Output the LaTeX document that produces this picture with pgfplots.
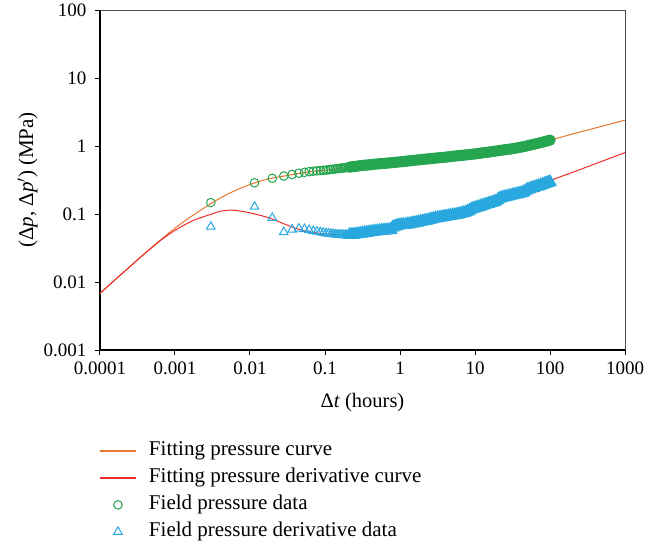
\documentclass[border=0pt]{standalone}
\usepackage{pgfplots}
\usepackage{pgfplotstable}
\pgfplotsset{compat=1.18}
\usepackage{fontspec}
\setmainfont{Liberation Serif}
\definecolor{fitorange}{RGB}{232,119,46}
\definecolor{fitred}{RGB}{238,43,43}
\definecolor{datgreen}{RGB}{36,165,78}
\definecolor{datblue}{RGB}{41,167,223}
\pgfplotsset{
  lineleg/.style 2 args={legend image code/.code={\fill[#1] (0pt,-#2) rectangle (35pt,#2); \path (48pt,0pt);}},
  markleg/.style={legend image code/.code={\path (0pt,0pt) (48pt,0pt); \draw[##1] plot coordinates {(17.5pt,0pt)};}},
}

\pgfplotstableread{
t p dp
0.0001 0.0068 0.0068
0.00015 0.0102 0.0102
0.0002 0.0135 0.0135
0.0003 0.0202 0.0201
0.0004 0.0267 0.0265
0.0005 0.0330 0.0326
0.0007 0.0450 0.0440
0.001 0.0620 0.0575
0.0015 0.0860 0.0740
0.002 0.1060 0.0850
0.003 0.1420 0.0990
0.004 0.1710 0.1095
0.005 0.1950 0.1135
0.006 0.2150 0.1135
0.007 0.2320 0.1115
0.008 0.2460 0.1090
0.01 0.2720 0.1040
0.015 0.3130 0.0930
0.02 0.3380 0.0840
0.03 0.3650 0.0700
0.04 0.3860 0.0620
0.05 0.4020 0.0575
0.07 0.4250 0.0535
0.1 0.4410 0.0510
0.15 0.4660 0.0495
0.2 0.4850 0.0490
0.3 0.5150 0.0510
0.5 0.5450 0.0550
0.8 0.5720 0.0610
1 0.5850 0.0660
2 0.6350 0.0770
3 0.6650 0.0860
5 0.7050 0.0960
10 0.7650 0.1200
20 0.8500 0.1600
30 0.9050 0.1850
50 1.0100 0.2250
70 1.1000 0.2600
100 1.2200 0.3100
200 1.5000 0.4100
500 1.9600 0.6000
1000 2.4000 0.8000
}\curves

\pgfplotstableread{
t p dp
0.003 0.147 0.065
0.0115 0.288 0.128
0.0198 0.335 0.088
0.0282 0.362 0.054
0.0365 0.381 0.059
0.0448 0.398 0.061
0.0532 0.410 0.060
0.0615 0.420 0.058
0.0698 0.426 0.056
0.0782 0.431 0.055
0.0865 0.435 0.054
0.0948 0.439 0.053
0.1032 0.442 0.052
0.1115 0.447 0.0515
0.1198 0.452 0.051
0.1282 0.456 0.0505
0.1365 0.460 0.050
0.1448 0.464 0.0498
0.1532 0.468 0.0495
0.1615 0.471 0.0493
0.1698 0.474 0.0491
0.1782 0.477 0.049
0.1865 0.480 0.049
0.1948 0.483 0.049
}\earlydata

\pgfplotstableread{
t p dp
0.211 0.489 0.0492
0.224 0.493 0.0494
0.237 0.497 0.0497
0.251 0.501 0.0500
0.266 0.505 0.0505
0.282 0.510 0.0510
0.299 0.515 0.0515
0.316 0.518 0.0520
0.335 0.521 0.0525
0.355 0.524 0.0530
0.376 0.527 0.0535
0.398 0.531 0.0540
0.422 0.535 0.0545
0.447 0.539 0.0550
0.473 0.542 0.0555
0.501 0.545 0.0560
0.531 0.548 0.0565
0.562 0.551 0.0568
0.596 0.554 0.0572
0.631 0.557 0.0575
0.668 0.560 0.0578
0.708 0.563 0.0580
0.750 0.566 0.0585
0.794 0.570 0.0630
0.841 0.574 0.0650
0.891 0.578 0.0665
0.944 0.581 0.0675
1.00 0.585 0.0685
1.06 0.589 0.0690
1.12 0.593 0.0695
1.19 0.597 0.0700
1.26 0.601 0.0705
1.33 0.605 0.0712
1.41 0.609 0.0720
1.50 0.613 0.0730
1.58 0.618 0.0740
1.68 0.622 0.0750
1.78 0.626 0.0760
1.88 0.630 0.0770
2.00 0.635 0.0780
2.11 0.639 0.0790
2.24 0.643 0.0800
2.37 0.647 0.0810
2.51 0.651 0.0825
2.66 0.655 0.0840
2.82 0.660 0.0855
2.99 0.664 0.0865
3.16 0.668 0.0875
3.35 0.672 0.0885
3.55 0.676 0.0895
3.76 0.680 0.0905
3.98 0.684 0.0915
4.22 0.689 0.0925
4.47 0.694 0.0935
4.73 0.699 0.0945
5.01 0.705 0.0955
5.31 0.710 0.0965
5.62 0.715 0.0975
5.96 0.719 0.0990
6.31 0.724 0.1005
6.68 0.729 0.1020
7.08 0.734 0.1040
7.50 0.739 0.1060
7.94 0.744 0.1080
8.41 0.749 0.1120
8.91 0.754 0.1170
9.44 0.760 0.1200
10.0 0.765 0.1220
10.6 0.772 0.1250
11.2 0.778 0.1275
11.9 0.785 0.1300
12.6 0.792 0.1325
13.3 0.799 0.1350
14.1 0.806 0.1380
15.0 0.813 0.1410
15.8 0.820 0.1440
16.8 0.827 0.1470
17.8 0.835 0.1500
18.8 0.842 0.1530
20.0 0.850 0.1600
21.1 0.858 0.1680
22.4 0.865 0.1720
23.7 0.873 0.1750
25.1 0.881 0.1780
26.6 0.889 0.1800
28.2 0.897 0.1830
29.9 0.905 0.1860
31.6 0.911 0.1890
33.5 0.922 0.1920
35.5 0.934 0.1950
37.6 0.945 0.1980
39.8 0.957 0.2010
42.2 0.969 0.2050
44.7 0.981 0.2100
47.3 0.993 0.2200
50.1 1.010 0.2280
53.1 1.025 0.2330
56.2 1.040 0.2380
59.6 1.055 0.2430
63.1 1.071 0.2480
66.8 1.086 0.2530
70.8 1.102 0.2580
75.0 1.120 0.2640
79.4 1.139 0.2700
84.1 1.158 0.2760
89.1 1.178 0.2830
94.4 1.198 0.2900
100.0 1.220 0.2960
}\densedata

\begin{document}
\begin{tikzpicture}
\begin{axis}[
  scale only axis, width=525pt, height=340pt,
  xmode=log, ymode=log,
  xmin=1e-4, xmax=1000, ymin=1e-3, ymax=100,
  axis x line*=bottom, axis y line*=left,
  axis line style={-, line width=1.5pt, black},
  clip=false,
  xtick={1e-4,1e-3,1e-2,1e-1,1,10,100,1000},
  xticklabels={0.0001,0.001,0.01,0.1,1,10,100,1000},
  ytick={1e-3,1e-2,1e-1,1,10,100},
  yticklabels={0.001,0.01,0.1,1,10,100},
  xminorticks=false, yminorticks=false,
  tick align=outside, major tick length=5pt,
  tick style={black, line width=1pt},
  tick label style={font=\fontsize{19}{22}\selectfont},
  xticklabel style={yshift=-3pt},
  yticklabel style={xshift=-5pt},
  xlabel={Δ\textit{t} (hours)},
  ylabel={(Δ\textit{p}, Δ\textit{p}$'$) (MPa)},
  xlabel style={font=\fontsize{20.5}{24}\selectfont, at={(axis description cs:0.5,-0.155)}, anchor=center},
  ylabel style={font=\fontsize{21}{24}\selectfont, at={(axis description cs:-0.138,0.5)}, anchor=center},
  legend cell align=left,
  legend style={draw=none, fill=none, at={(axis description cs:0,-0.268)}, anchor=north west,
    inner sep=0pt, outer sep=0pt, row sep=7.5pt,
    font=\fontsize{21}{24}\selectfont,
    nodes={inner sep=0pt, text height=14.5pt, text depth=5pt}},
]
\draw[color=black!70, line width=0.8pt] (rel axis cs:0,1) -- (rel axis cs:1,1) -- (rel axis cs:1,0);
\coordinate (bbsw) at (rel axis cs:0,0);

\addplot[fitorange, line width=1pt, smooth, no marks, lineleg={fitorange}{0.7pt}]
  table[x=t, y=p] {\curves};
\addlegendentry{Fitting pressure curve}

\addplot[fitred, line width=1pt, smooth, no marks, lineleg={fitred}{0.75pt}]
  table[x=t, y=dp] {\curves};
\addlegendentry{Fitting pressure derivative curve}

\addplot[datgreen, only marks, mark=o, mark size=4.3pt, mark options={line width=1pt}, markleg]
  table[x=t, y=p] {\earlydata};
\addlegendentry{Field pressure data}
\addplot[datgreen, only marks, mark=o, mark size=4.5pt, mark options={line width=2.2pt}, forget plot]
  table[x=t, y=p] {\densedata};

\addplot[datblue, only marks, mark=triangle, mark size=5pt, mark options={line width=1pt}, markleg]
  table[x=t, y=dp] {\earlydata};
\addlegendentry{Field pressure derivative data}
\addplot[datblue, only marks, mark=triangle, mark size=5.6pt, mark options={line width=2.4pt}, forget plot]
  table[x=t, y=dp] {\densedata};
\end{axis}
\pgfresetboundingbox
\path ([shift={(-100pt,-196pt)}]bbsw) rectangle ++(668pt,546pt);
\end{tikzpicture}
\end{document}
